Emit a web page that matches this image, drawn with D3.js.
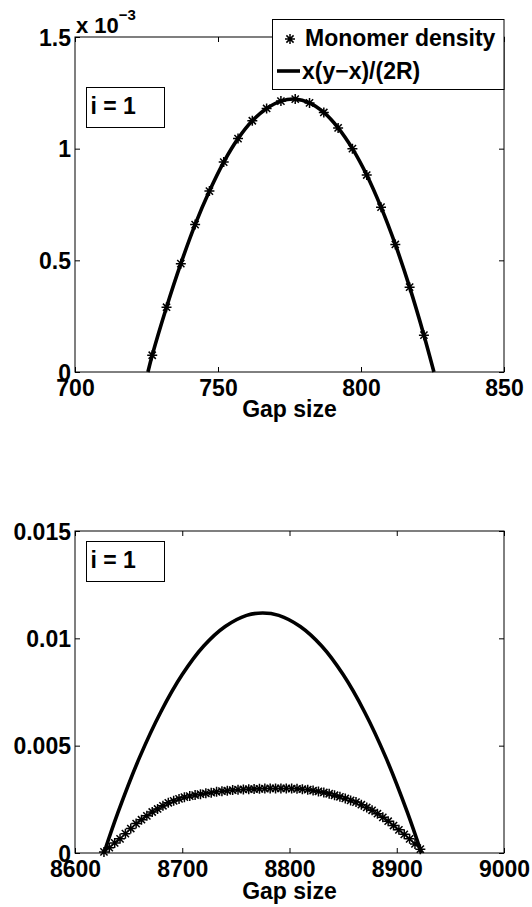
<!DOCTYPE html>
<html>
<head>
<meta charset="utf-8">
<script src="https://cdn.jsdelivr.net/npm/d3@7"></script>
<style>
  html, body { margin: 0; padding: 0; background: #fff; }
  svg { display: block; }
  text { font-family: "Liberation Sans", Arial, Helvetica, sans-serif; font-weight: bold; fill: #000; }
</style>
</head>
<body>
<svg id="fig" width="532" height="907"></svg>
<script>
// ---- Panel 1: small gap (values in units of 1e-3) ----
const topStarGap = [727, 732, 737, 742, 747, 752, 757, 762, 767, 772,
                    777, 782, 787, 792, 797, 802, 807, 812, 817, 822];
const topStarVal = [0.075, 0.29, 0.485, 0.66, 0.81, 0.94, 1.045, 1.125, 1.18, 1.213,
                    1.222, 1.205, 1.162, 1.093, 1.0, 0.882, 0.738, 0.571, 0.38, 0.165];
const topLineGap = [725.5, 727, 732, 737, 742, 747, 752, 757, 762, 767, 772,
                    777, 782, 787, 792, 797, 802, 807, 812, 817, 822, 825.5];
const topLineVal = [0, 0.075, 0.29, 0.485, 0.66, 0.81, 0.94, 1.045, 1.125, 1.18, 1.213,
                    1.222, 1.205, 1.162, 1.093, 1.0, 0.882, 0.738, 0.571, 0.38, 0.165, 0];
const topXTicks = [700, 750, 800, 850];
const topYTicks = [0, 0.5, 1, 1.5];
const topYLabels = ["0", "0.5", "1", "1.5"];

// ---- Panel 2: large gap ----
const botStarGap = [8627, 8632, 8637, 8642, 8647, 8652, 8657, 8662, 8667, 8672,
                    8677, 8682, 8687, 8692, 8697, 8702, 8707, 8712, 8717, 8722,
                    8727, 8732, 8737, 8742, 8747, 8752, 8757, 8762, 8767, 8772,
                    8777, 8782, 8787, 8792, 8797, 8802, 8807, 8812, 8817, 8822,
                    8827, 8832, 8837, 8842, 8847, 8852, 8857, 8862, 8867, 8872,
                    8877, 8882, 8887, 8892, 8897, 8902, 8907, 8912, 8917, 8922];
const botStarVal = [0.00005, 0.00025, 0.00047, 0.00066, 0.00090, 0.00114, 0.00137, 0.00155, 0.00173, 0.00191,
                    0.00205, 0.00220, 0.00234, 0.00243, 0.00252, 0.00260, 0.00265, 0.00270, 0.00274, 0.00278,
                    0.00281, 0.00285, 0.00288, 0.00290, 0.00293, 0.00295, 0.00296, 0.00297, 0.00298, 0.00299,
                    0.00300, 0.00301, 0.00301, 0.00301, 0.00301, 0.00300, 0.00299, 0.00297, 0.00295, 0.00291,
                    0.00287, 0.00282, 0.00276, 0.00269, 0.00262, 0.00254, 0.00245, 0.00237, 0.00225, 0.00212,
                    0.00199, 0.00183, 0.00166, 0.00148, 0.00128, 0.00108, 0.00087, 0.00066, 0.00042, 0.00018];
const botLineGap = [8627, 8640, 8660, 8680, 8700, 8720, 8740, 8760, 8775,
                    8790, 8810, 8830, 8850, 8870, 8890, 8910, 8923];
const botLineVal = [0, 0.00188, 0.00443, 0.00657, 0.00831, 0.00964, 0.01055, 0.01107, 0.01118,
                    0.01107, 0.01055, 0.00964, 0.00831, 0.00657, 0.00443, 0.00188, 0];
const botXTicks = [8600, 8700, 8800, 8900, 9000];
const botYTicks = [0, 0.005, 0.01, 0.015];
const botYLabels = ["0", "0.005", "0.01", "0.015"];

const legendItems = ["Monomer density", "x(y\u2212x)/(2R)"];
const panelLabel = "i = 1";
const xTitle = "Gap size";

const FS = 23;
const svg = d3.select("#fig");
const starPath = "M-5,0H5M0,-5V5M-3.6,-3.6L3.6,3.6M-3.6,3.6L3.6,-3.6";

function panel(cfg) {
  const x = d3.scaleLinear().domain(cfg.xDomain).range([75, 504]);
  const y = d3.scaleLinear().domain(cfg.yDomain).range([cfg.bottom, cfg.top]);
  const g = svg.append("g");

  // ticks on all four sides, pointing inward
  const ax = g.append("g").attr("transform", `translate(0,${cfg.bottom})`)
    .call(d3.axisBottom(x).tickValues(cfg.xTicks).tickFormat(d3.format("d"))
      .tickSizeInner(-5).tickSizeOuter(0).tickPadding(0));
  ax.selectAll("text").attr("dy", null).attr("y", 24).style("font-size", FS + "px");
  g.append("g").attr("transform", `translate(0,${cfg.top})`)
    .call(d3.axisTop(x).tickValues(cfg.xTicks).tickFormat("").tickSizeInner(-5).tickSizeOuter(0));
  const ay = g.append("g").attr("transform", `translate(75,0)`)
    .call(d3.axisLeft(y).tickValues(cfg.yTicks).tickFormat((d, i) => cfg.yLabels[i])
      .tickSizeInner(-5).tickSizeOuter(0).tickPadding(4));
  ay.selectAll("text").attr("dy", "0.36em").style("font-size", FS + "px");
  g.append("g").attr("transform", `translate(504,0)`)
    .call(d3.axisRight(y).tickValues(cfg.yTicks).tickFormat("").tickSizeInner(-5).tickSizeOuter(0));
  g.selectAll(".domain").remove();
  g.selectAll(".tick line").attr("stroke", "#000").attr("stroke-width", 1);
  g.selectAll(".tick text").attr("fill", "#000");
  g.selectAll(".tick").each(function () { d3.select(this.parentNode).attr("font-family", null); });

  // frame
  g.append("rect").attr("x", 75).attr("y", cfg.top)
    .attr("width", 429).attr("height", cfg.bottom - cfg.top)
    .attr("fill", "none").attr("stroke", "#000").attr("stroke-width", 1);

  // formula curve
  const path = d3.line().x(d => x(d[0])).y(d => y(d[1])).curve(d3.curveCatmullRom);
  g.append("path").datum(d3.zip(cfg.lineGap, cfg.lineVal))
    .attr("d", path).attr("fill", "none").attr("stroke", "#000")
    .attr("stroke-width", 3.6).attr("stroke-linejoin", "round");

  // monomer density markers
  g.append("g").selectAll("path").data(d3.zip(cfg.starGap, cfg.starVal)).join("path")
    .attr("transform", d => `translate(${x(d[0])},${y(d[1])})`)
    .attr("d", starPath).attr("fill", "none").attr("stroke", "#000").attr("stroke-width", 1.5);

  // x title
  g.append("text").attr("x", 289.5).attr("y", cfg.bottom + cfg.titleGap)
    .attr("text-anchor", "middle").style("font-size", FS + "px").text(xTitle);

  // panel label box
  g.append("rect").attr("x", 86.5).attr("y", cfg.boxTop + 0.5).attr("width", 78).attr("height", 40)
    .attr("fill", "#fff").attr("stroke", "#000").attr("stroke-width", 1);
  g.append("text").attr("x", 90.5).attr("y", cfg.boxTop + 26.5)
    .style("font-size", FS + "px").text(panelLabel);
  return g;
}

panel({
  xDomain: [700, 850], yDomain: [0, 1.5], top: 37, bottom: 372, boxTop: 87, titleGap: 45,
  xTicks: topXTicks, yTicks: topYTicks, yLabels: topYLabels,
  lineGap: topLineGap, lineVal: topLineVal, starGap: topStarGap, starVal: topStarVal
});
panel({
  xDomain: [8600, 9000], yDomain: [0, 0.015], top: 531, bottom: 853, boxTop: 541, titleGap: 46,
  xTicks: botXTicks, yTicks: botYTicks, yLabels: botYLabels,
  lineGap: botLineGap, lineVal: botLineVal, starGap: botStarGap, starVal: botStarVal
});

// exponent label for the first panel
const expo = svg.append("text").attr("x", 76).attr("y", 33).style("font-size", "22px");
expo.append("tspan").text("x 10");
expo.append("tspan").attr("dy", -13).style("font-size", "15px").text("\u22123");

// legend
const lg = svg.append("g");
lg.append("rect").attr("x", 272.5).attr("y", 19.5).attr("width", 231.5).attr("height", 70)
  .attr("fill", "#fff").attr("stroke", "#000").attr("stroke-width", 1);
lg.append("path").attr("transform", "translate(290,39)").attr("d", starPath)
  .attr("fill", "none").attr("stroke", "#000").attr("stroke-width", 1.5);
lg.append("text").attr("x", 305).attr("y", 46).style("font-size", FS + "px").text(legendItems[0]);
lg.append("line").attr("x1", 277).attr("x2", 300).attr("y1", 71).attr("y2", 71)
  .attr("stroke", "#000").attr("stroke-width", 3.6);
lg.append("text").attr("x", 302).attr("y", 79).style("font-size", FS + "px").text(legendItems[1]);
</script>
</body>
</html>
